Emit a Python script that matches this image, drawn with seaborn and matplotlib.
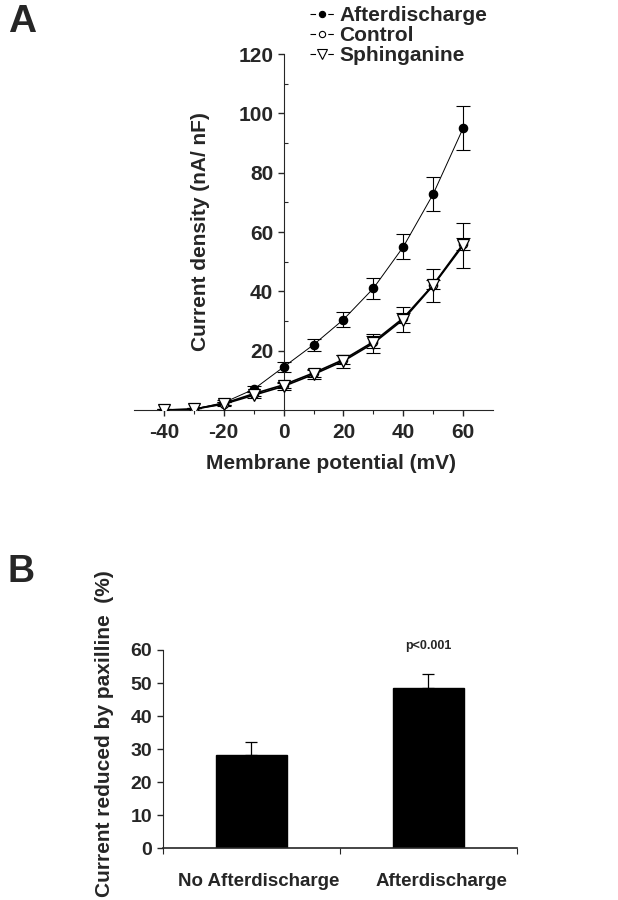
import numpy as np
import pandas as pd
import matplotlib
matplotlib.use("Agg")
import matplotlib.pyplot as plt
import matplotlib.transforms as mtransforms
import seaborn as sns

# Panel A: current density vs membrane potential
potential = [-40, -30, -20, -10, 0, 10, 20, 30, 40, 50, 60]
after_mean = [0.0, 0.3, 2.5, 7.0, 14.5, 22.0, 30.5, 41.0, 55.0, 72.8, 95.0]
after_err = [0.3, 0.4, 0.8, 1.0, 1.6, 2.0, 2.6, 3.6, 4.2, 5.6, 7.5]
control_mean = [0.0, 0.3, 2.2, 5.5, 8.5, 12.5, 17.0, 23.0, 31.0, 42.2, 56.0]
control_err = [0.2, 0.3, 0.6, 0.8, 1.0, 1.3, 1.5, 2.0, 1.8, 1.5, 2.0]
sphing_mean = [0.0, 0.3, 2.0, 5.0, 8.0, 12.0, 16.5, 22.5, 30.5, 42.0, 55.5]
sphing_err = [0.2, 0.3, 0.7, 1.0, 1.2, 1.6, 2.2, 3.2, 4.2, 5.5, 7.5]
series_names = ["Afterdischarge", "Control", "Sphinganine"]

# Panel B: current reduced by paxilline
groups = ["No Afterdischarge", "Afterdischarge"]
reduction = [28.2, 48.5]
reduction_err = [3.9, 4.2]

sns.set_style("ticks")
plt.rcParams["font.family"] = ["Liberation Sans", "DejaVu Sans"]
plt.rcParams["font.weight"] = "bold"
plt.rcParams["axes.unicode_minus"] = False

fig = plt.figure(figsize=(6.18, 9), dpi=100)

# ---------------- Panel A ----------------
axA = fig.add_axes([0.2168, 0.5444, 0.581, 0.3956])
styles = {
    "Afterdischarge": dict(marker="o", mfc="black", mec="black", ms=6, lw=0.7),
    "Control": dict(marker="o", mfc="white", mec="black", ms=6, lw=1.2),
    "Sphinganine": dict(marker="v", mfc="white", mec="black", ms=8, lw=1.2),
}
means = [after_mean, control_mean, sphing_mean]
errs = [after_err, control_err, sphing_err]
handles = []
for name, m, e in zip(series_names, means, errs):
    st = styles[name]
    df = pd.DataFrame({"mV": potential, "density": m})
    axA.errorbar(potential, m, yerr=e, fmt="none", ecolor="black",
                 elinewidth=0.8, capsize=5, capthick=0.8, zorder=2)
    sns.lineplot(data=df, x="mV", y="density", ax=axA, color="black",
                 lw=st["lw"], marker=st["marker"], markersize=st["ms"],
                 markerfacecolor=st["mfc"], markeredgecolor=st["mec"],
                 markeredgewidth=0.9, zorder=3)
    handles.append(plt.Line2D([], [], color="black", lw=0.8, ls=(0, (5, 3)),
                              marker=st["marker"], markersize=st["ms"] - 1.5,
                              markerfacecolor=st["mfc"], markeredgecolor=st["mec"],
                              markeredgewidth=0.8))

axA.set_xlim(-50, 70)
axA.set_ylim(0, 120)
axA.spines["left"].set_position(("data", 0))
axA.spines["bottom"].set_position(("data", 0))
axA.spines["right"].set_visible(False)
axA.spines["top"].set_visible(False)
axA.set_xticks([-40, -20, 0, 20, 40, 60])
axA.set_xticks([-30, -10, 10, 30, 50], minor=True)
axA.set_yticks([20, 40, 60, 80, 100, 120])
axA.set_yticks([10, 30, 50, 70, 90, 110], minor=True)
axA.tick_params(axis="both", which="major", labelsize=15, length=4, width=1)
axA.tick_params(axis="y", which="minor", direction="in", length=3, width=0.8)
axA.tick_params(axis="x", which="minor", direction="out", length=3, width=0.8)
axA.tick_params(axis="x", which="major", pad=5)
for lab in axA.get_xticklabels() + axA.get_yticklabels():
    lab.set_fontweight("bold")
axA.set_xlabel("Membrane potential (mV)", fontsize=15, fontweight="bold")
axA.set_ylabel("Current density (nA/ nF)", fontsize=15, fontweight="bold")
axA.xaxis.label.set_va("center")
axA.yaxis.label.set_va("center")
axA.xaxis.set_label_coords(0.548, -0.149)
axA.yaxis.set_label_coords(0.185, 0.5)

leg = fig.legend(handles, series_names, loc="upper left",
                 bbox_to_anchor=(0.472, 1.014), frameon=False,
                 handlelength=1.15, handletextpad=0.25, labelspacing=0.05,
                 prop={"size": 15, "weight": "bold"})

fig.text(0.036, 0.976, "A", fontsize=28, fontweight="bold", ha="center", va="center")

# ---------------- Panel B ----------------
axB = fig.add_axes([0.2633, 0.0574, 0.5728, 0.2204])
dfB = pd.DataFrame({"group": groups, "value": reduction})
sns.barplot(data=dfB, x="group", y="value", ax=axB, color="black",
            width=0.4, edgecolor="black", errorbar=None)
axB.errorbar(range(len(groups)), reduction,
             yerr=[np.zeros(len(groups)), reduction_err], fmt="none",
             ecolor="black", elinewidth=0.9, capsize=4, capthick=0.9)
axB.set_xlim(-0.5, 1.5)
axB.set_ylim(0, 60)
axB.set_yticks(range(0, 61, 10))
axB.set_xticks([-0.5, 0.5, 1.5], minor=True)
axB.tick_params(axis="x", which="major", length=0, pad=18)
axB.tick_params(axis="x", which="minor", length=4, width=0.8)
axB.tick_params(axis="y", length=4, width=1)
axB.spines["right"].set_visible(False)
axB.spines["top"].set_visible(False)
axB.spines["bottom"].set_linewidth(1.2)
for lab in axB.get_yticklabels():
    lab.set_fontsize(14)
    lab.set_fontweight("bold")
# category labels sit a little right of the bar centres in the original
for lab, dx in zip(axB.get_xticklabels(), [7, 13]):
    lab.set_fontsize(13.5)
    lab.set_fontweight("bold")
    lab.set_transform(lab.get_transform() +
                      mtransforms.ScaledTranslation(dx / 100, 0, fig.dpi_scale_trans))
axB.set_xlabel("")
axB.set_ylabel("Current reduced by paxilline  (%)", fontsize=15, fontweight="bold")
axB.yaxis.label.set_va("center")
axB.yaxis.set_label_coords(-0.165, 0.576)
axB.text(1, 61.2, "p<0.001", ha="center", va="center", fontsize=9,
         fontweight="bold")

fig.text(0.034, 0.364, "B", fontsize=27, fontweight="bold", ha="center", va="center")

fig.savefig("out.png", dpi=100)
